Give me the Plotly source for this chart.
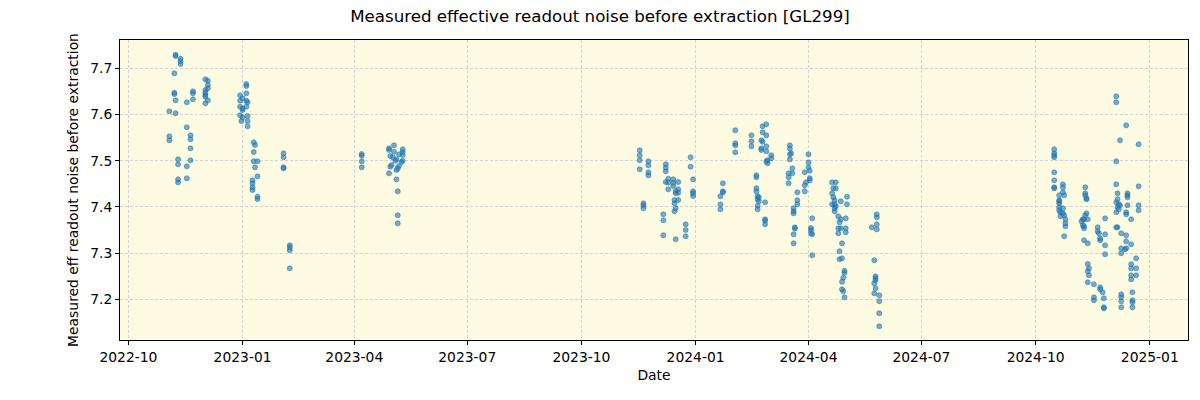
import plotly.graph_objects as go

# Season 2022-11 .. 2023-02
dates_a = ["2022-11-08", "2022-11-08", "2022-11-12", "2022-11-12", "2022-11-12", "2022-11-07", "2022-11-07", "2022-11-07",
           "2022-11-08", "2022-11-03", "2022-11-08", "2022-11-03", "2022-11-03", "2022-11-10", "2022-11-10", "2022-11-10",
           "2022-11-10", "2022-11-17", "2022-11-22", "2022-11-22", "2022-11-22", "2022-11-17", "2022-11-20", "2022-11-20",
           "2022-11-20", "2022-11-20", "2022-11-17", "2022-11-17",
           "2022-12-02", "2022-12-04", "2022-12-04", "2022-12-04", "2022-12-02", "2022-12-02", "2022-12-02", "2022-12-02",
           "2022-12-04", "2022-12-02",
           "2023-01-04", "2023-01-04", "2022-12-30", "2023-01-04", "2022-12-30", "2023-01-01", "2023-01-04", "2023-01-05",
           "2022-12-30", "2023-01-01", "2023-01-01", "2023-01-04", "2022-12-30", "2023-01-01", "2023-01-05", "2023-01-05",
           "2022-12-31", "2023-01-05",
           "2023-01-10", "2023-01-11", "2023-01-10", "2023-01-10", "2023-01-13", "2023-01-11", "2023-01-13", "2023-01-09",
           "2023-01-09", "2023-01-09", "2023-01-09", "2023-01-13", "2023-01-13",
           "2023-02-03", "2023-02-03", "2023-02-03", "2023-02-03", "2023-02-08", "2023-02-08", "2023-02-08", "2023-02-08"]
vals_a = [7.7294, 7.7266, 7.7208, 7.7152, 7.7093, 7.6892, 7.6472, 7.6444,
          7.6307, 7.6069, 7.6026, 7.5528, 7.5442, 7.5030, 7.4922, 7.4597,
          7.4532, 7.6264, 7.6502, 7.6459, 7.6329, 7.5723, 7.5550, 7.5463,
          7.5268, 7.5009, 7.4879, 7.4619,
          7.6762, 7.6732, 7.6639, 7.6567, 7.6530, 7.6472, 7.6422, 7.6385,
          7.6307, 7.6242,
          7.6660, 7.6617, 7.6416, 7.6459, 7.6299, 7.6351, 7.6299, 7.6264,
          7.6169, 7.6134, 7.6097, 7.6169, 7.5983, 7.5939, 7.5968, 7.5859,
          7.5859, 7.5745,
          7.5398, 7.5340, 7.5188, 7.4987, 7.4987, 7.4857, 7.4662, 7.4576,
          7.4511, 7.4424, 7.4366, 7.4221, 7.4171,
          7.5160, 7.5074, 7.4857, 7.4835, 7.3169, 7.3126, 7.3061, 7.2671]

# Season 2023-04 .. 2023-05
dates_b = ["2023-04-07", "2023-04-07", "2023-04-07", "2023-04-07",
           "2023-04-29", "2023-04-29", "2023-05-03", "2023-05-03", "2023-04-30", "2023-05-02", "2023-05-05", "2023-05-04",
           "2023-05-10", "2023-05-10", "2023-05-10", "2023-05-07", "2023-05-01", "2023-04-30", "2023-05-07", "2023-05-06",
           "2023-05-05", "2023-05-10", "2023-05-09", "2023-04-29", "2023-05-05", "2023-05-06", "2023-05-06", "2023-05-06"]
vals_b = [7.5145, 7.5108, 7.4987, 7.4857,
          7.5268, 7.5232, 7.5333, 7.5195, 7.5102, 7.5074, 7.5030, 7.5000,
          7.5247, 7.5188, 7.5123, 7.5139, 7.4907, 7.4870, 7.4885, 7.4835,
          7.4799, 7.5000, 7.4972, 7.4727, 7.4597, 7.4338, 7.3818, 7.3645]

# Season 2023-11 .. 2024-06
dates_c = ["2023-11-17", "2023-11-17", "2023-11-17", "2023-11-17", "2023-11-20", "2023-11-20", "2023-11-20",
           "2023-11-24", "2023-11-24", "2023-11-24", "2023-11-24",
           "2023-12-08", "2023-12-08", "2023-12-08", "2023-12-08", "2023-12-10", "2023-12-10", "2023-12-10",
           "2023-12-14", "2023-12-14", "2023-12-14", "2023-12-18", "2023-12-18", "2023-12-18", "2023-12-16",
           "2023-12-16", "2023-12-15", "2023-12-15", "2023-12-16", "2023-12-15", "2023-12-18",
           "2023-12-06", "2023-12-06", "2023-12-06", "2023-12-16", "2023-12-24", "2023-12-24", "2023-12-24",
           "2023-12-28", "2023-12-28", "2023-12-30", "2023-12-30", "2023-12-30", "2023-12-30",
           "2024-01-21", "2024-01-23", "2024-01-23", "2024-01-23", "2024-01-21", "2024-01-21",
           "2024-02-02", "2024-02-02", "2024-02-02", "2024-02-02", "2024-02-15", "2024-02-15", "2024-02-15",
           "2024-02-19", "2024-02-19", "2024-02-19", "2024-02-19", "2024-02-20", "2024-02-21", "2024-02-20",
           "2024-02-21", "2024-02-20", "2024-02-20", "2024-02-26", "2024-02-26", "2024-02-26", "2024-02-26",
           "2024-02-24", "2024-02-24", "2024-02-27", "2024-02-27", "2024-02-23", "2024-02-24", "2024-02-23",
           "2024-02-23", "2024-02-27", "2024-02-27", "2024-02-28", "2024-02-28", "2024-03-02", "2024-03-02",
           "2024-02-27",
           "2024-03-17", "2024-03-17", "2024-03-18", "2024-03-17", "2024-03-17", "2024-03-19", "2024-03-16",
           "2024-03-16", "2024-03-16", "2024-03-19", "2024-03-23", "2024-03-23", "2024-03-23", "2024-03-20",
           "2024-03-20", "2024-03-20", "2024-03-21", "2024-03-21", "2024-03-20", "2024-03-20",
           "2024-04-01", "2024-04-01", "2024-04-01", "2024-04-02", "2024-03-29", "2024-03-30", "2024-03-29",
           "2024-03-29", "2024-04-02", "2024-04-02", "2024-04-04", "2024-04-03", "2024-04-03", "2024-04-04",
           "2024-04-03", "2024-04-04",
           "2024-04-20", "2024-04-23", "2024-04-21", "2024-04-23", "2024-04-20", "2024-04-21", "2024-04-22",
           "2024-04-22", "2024-04-23", "2024-04-22", "2024-04-22", "2024-04-20", "2024-04-27", "2024-04-25",
           "2024-04-27", "2024-04-26", "2024-04-25", "2024-04-27", "2024-04-25", "2024-05-01", "2024-05-01",
           "2024-05-01", "2024-05-02", "2024-05-02", "2024-04-28", "2024-04-26", "2024-04-26", "2024-04-28",
           "2024-04-30", "2024-04-30", "2024-04-29", "2024-04-28", "2024-04-28", "2024-04-29", "2024-04-30",
           "2024-05-22", "2024-05-26", "2024-05-26", "2024-05-26", "2024-05-26", "2024-05-24", "2024-05-25",
           "2024-05-25", "2024-05-25", "2024-05-24", "2024-05-25", "2024-05-24", "2024-05-28", "2024-05-28",
           "2024-05-28", "2024-05-28"]
vals_c = [7.5225, 7.5117, 7.5009, 7.4814, 7.4078, 7.4035, 7.3970,
          7.4987, 7.4900, 7.4749, 7.4684,
          7.4922, 7.4848, 7.4771, 7.4539, 7.4610, 7.4524, 7.4381,
          7.4597, 7.4524, 7.4452, 7.4539, 7.4381, 7.4307, 7.4338,
          7.4294, 7.4149, 7.4078, 7.3970, 7.3905, 7.4149,
          7.3840, 7.3710, 7.3385, 7.3299, 7.3623, 7.3500, 7.3364,
          7.5074, 7.4870, 7.4597, 7.4338, 7.4294, 7.4236,
          7.4229, 7.4511, 7.4338, 7.4316, 7.4056, 7.3948,
          7.5658, 7.5377, 7.5333, 7.5182, 7.5550, 7.5420, 7.5312,
          7.4684, 7.4641, 7.4403, 7.4338, 7.4229, 7.4208, 7.4165,
          7.4121, 7.4026, 7.3948, 7.4100, 7.3732, 7.3623, 7.3701,
          7.5745, 7.5615, 7.5788, 7.5550, 7.5442, 7.5411, 7.5268,
          7.5232, 7.5312, 7.5203, 7.5009, 7.4944, 7.5117, 7.5052,
          7.4987,
          7.5333, 7.5260, 7.5160, 7.5139, 7.5030, 7.4835, 7.4727,
          7.4641, 7.4511, 7.4727, 7.4316, 7.4143, 7.4056, 7.3970,
          7.3861, 7.3905, 7.3558, 7.3528, 7.3407, 7.3212,
          7.5139, 7.4965, 7.4857, 7.4784, 7.4749, 7.4532, 7.4468,
          7.4338, 7.4619, 7.4576, 7.3753, 7.3543, 7.3429, 7.3407,
          7.3500, 7.2952,
          7.4532, 7.4532, 7.4403, 7.4403, 7.4294, 7.4208, 7.4143,
          7.4056, 7.4013, 7.3970, 7.3905, 7.4056, 7.4121, 7.3797,
          7.3732, 7.3667, 7.3537, 7.3537, 7.3429, 7.3753, 7.3537,
          7.3450, 7.4221, 7.4056, 7.3212, 7.3039, 7.2866, 7.2887,
          7.2619, 7.2576, 7.2468, 7.2381, 7.2216, 7.2173, 7.2043,
          7.3558, 7.3840, 7.3775, 7.3623, 7.3515, 7.2844, 7.2498,
          7.2455, 7.2411, 7.2346, 7.2238, 7.2130, 7.2087, 7.1957,
          7.1697, 7.1416]

# Season 2024-10 .. 2024-12
dates_d = ["2024-10-16", "2024-10-16", "2024-10-16", "2024-10-16", "2024-10-16", "2024-10-16", "2024-10-16",
           "2024-10-16", "2024-10-23", "2024-10-23", "2024-10-23", "2024-10-24", "2024-10-20", "2024-10-20",
           "2024-10-20", "2024-10-20", "2024-10-20", "2024-10-21", "2024-10-23", "2024-10-23", "2024-10-21",
           "2024-10-24", "2024-10-25", "2024-10-25", "2024-10-25", "2024-10-24", "2024-10-20",
           "2024-11-10", "2024-11-10", "2024-11-10", "2024-11-11", "2024-11-11", "2024-11-11", "2024-11-10",
           "2024-11-09", "2024-11-08", "2024-11-07", "2024-11-08", "2024-11-09", "2024-11-12", "2024-11-09",
           "2024-11-09", "2024-11-12", "2024-11-12", "2024-11-13", "2024-11-12", "2024-11-13", "2024-11-12",
           "2024-11-20", "2024-11-20", "2024-11-21", "2024-11-22", "2024-11-22", "2024-11-26", "2024-11-26",
           "2024-11-26", "2024-11-26", "2024-11-17", "2024-11-22", "2024-11-22", "2024-11-24", "2024-11-17",
           "2024-11-17", "2024-11-25", "2024-11-25", "2024-11-25",
           "2024-12-05", "2024-12-05", "2024-12-13", "2024-12-08", "2024-12-23", "2024-12-05", "2024-12-05",
           "2024-12-06", "2024-12-06", "2024-12-05", "2024-12-07", "2024-12-08", "2024-12-06", "2024-12-05",
           "2024-12-07", "2024-12-14", "2024-12-14", "2024-12-14", "2024-12-14", "2024-12-13", "2024-12-13",
           "2024-12-17", "2024-12-23", "2024-12-23", "2024-12-23", "2024-12-05", "2024-12-06", "2024-12-09",
           "2024-12-13", "2024-12-13", "2024-12-13", "2024-12-12", "2024-12-09", "2024-12-09", "2024-12-17",
           "2024-12-21", "2024-12-17", "2024-12-17", "2024-12-21", "2024-12-17", "2024-12-21", "2024-12-17",
           "2024-12-18", "2024-12-09", "2024-12-09", "2024-12-09", "2024-12-09", "2024-12-18", "2024-12-18",
           "2024-12-18"]
vals_d = [7.5247, 7.5160, 7.5117, 7.5074, 7.4749, 7.4576, 7.4424,
          7.4403, 7.4489, 7.4424, 7.4316, 7.4251, 7.4251, 7.4143,
          7.4078, 7.3991, 7.3926, 7.3883, 7.3970, 7.3861, 7.3797,
          7.3818, 7.3732, 7.3645, 7.3580, 7.3364, 7.4121,
          7.4424, 7.4294, 7.4251, 7.4186, 7.4165, 7.3861, 7.3818,
          7.3732, 7.3732, 7.3688, 7.3602, 7.3580, 7.3732, 7.3537,
          7.3277, 7.3212, 7.2764, 7.2671, 7.2606, 7.2519, 7.2368,
          7.3558, 7.3472, 7.3429, 7.3320, 7.3277, 7.3753, 7.3407,
          7.3169, 7.2974, 7.2325, 7.2260, 7.2216, 7.2152, 7.2043,
          7.1978, 7.2022, 7.1827, 7.1805,
          7.6394, 7.6264, 7.5766, 7.5442, 7.5355, 7.4987, 7.4489,
          7.4294, 7.4165, 7.4100, 7.4056, 7.4035, 7.3991, 7.3883,
          7.3948, 7.4294, 7.4251, 7.4208, 7.4035, 7.3883, 7.3840,
          7.3732, 7.4446, 7.4035, 7.3926, 7.3558, 7.3558, 7.3429,
          7.3385, 7.3255, 7.3104, 7.3082, 7.3104, 7.2996, 7.3190,
          7.2887, 7.2758, 7.2671, 7.2671, 7.2519, 7.2519, 7.2433,
          7.2152, 7.2108, 7.2043, 7.1957, 7.1827, 7.1978, 7.1935,
          7.1827]

x_range = ["2022-09-24 05:00", "2025-01-31 19:00"]
y_range = [7.1119, 7.7613]
y_ticks = [7.2, 7.3, 7.4, 7.5, 7.6, 7.7]

dates = dates_a + dates_b + dates_c + dates_d
vals = vals_a + vals_b + vals_c + vals_d

FONT = "DejaVu Sans"
TICK_SIZE = 13.89
TITLE_SIZE = 16.67

fig = go.Figure()
fig.add_trace(go.Scatter(
    x=dates, y=vals, mode="markers",
    marker=dict(size=5, color="rgba(31,119,180,0.6)",
                line=dict(width=0.8, color="rgba(31,119,180,0.7)")),
    showlegend=False,
))

axis_common = dict(
    showline=True, linecolor="black", linewidth=1, mirror=True,
    ticks="outside", ticklen=4, tickwidth=1, tickcolor="black",
    showgrid=True, gridcolor="#d3d3d3", griddash="3px,2px", gridwidth=1,
    zeroline=False,
    tickfont=dict(family=FONT, size=TICK_SIZE, color="black"),
)

fig.update_layout(
    width=1200, height=400,
    margin=dict(l=120, r=12, t=40, b=60),
    paper_bgcolor="white",
    plot_bgcolor="#FDFCE2",
    font=dict(family=FONT, color="black"),
    title=dict(text="Measured effective readout noise before extraction [GL299]",
               x=0.5, xanchor="center", y=1 - 16 / 400, yanchor="middle",
               yref="container", font=dict(family=FONT, size=TITLE_SIZE, color="black")),
    xaxis=dict(
        range=x_range, type="date", tickformat="%Y-%m",
        dtick="M3", tick0="2022-10-01",
        title=dict(text="Date", font=dict(family=FONT, size=TICK_SIZE), standoff=6),
        **axis_common,
    ),
    yaxis=dict(
        range=y_range, tickvals=y_ticks, tickformat=".1f",
        title=dict(text="Measured eff readout noise before extraction",
                   font=dict(family=FONT, size=TICK_SIZE), standoff=8),
        **axis_common,
    ),
)

fig.write_html("out.html")
